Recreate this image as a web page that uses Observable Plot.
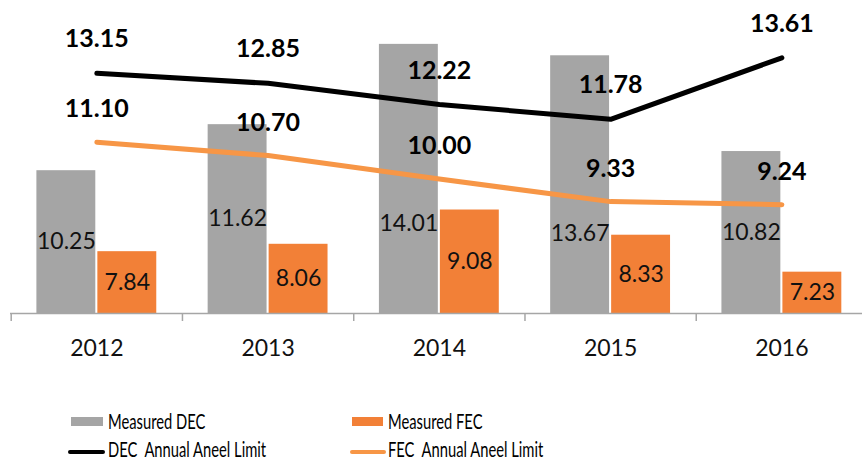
<!DOCTYPE html>
<html><head><meta charset="utf-8">
<script src="https://cdn.jsdelivr.net/npm/d3@7"></script>
<script src="https://cdn.jsdelivr.net/npm/@observablehq/plot@0.6"></script>
<style>
body{margin:0;background:#fff;font-family:Lato,"Open Sans",sans-serif;}
#wrap{position:relative;width:862px;height:461px;}
#chart{position:absolute;left:0;top:0;}
.lg{position:absolute;font-size:22px;color:#000;white-space:pre;line-height:26px;transform:scaleX(0.67);transform-origin:0 50%;}
.sw{position:absolute;}
</style></head><body>
<div id="wrap"><div id="chart"></div>
<div class="sw" style="left:71px;top:417px;width:32px;height:9px;background:#a5a5a5"></div>
<div class="lg" style="left:108px;top:408px">Measured DEC</div>
<div class="sw" style="left:352px;top:417px;width:31px;height:9px;background:#f28037"></div>
<div class="lg" style="left:388px;top:408px">Measured FEC</div>
<div class="sw" style="left:68px;top:450px;width:37px;height:4px;border-radius:2px;background:#000"></div>
<div class="lg" style="left:108px;top:436px">DEC  Annual Aneel Limit</div>
<div class="sw" style="left:350px;top:450px;width:36px;height:4px;border-radius:2px;background:#f79646"></div>
<div class="lg" style="left:388px;top:436px">FEC  Annual Aneel Limit</div>
</div>
<script>
const years = [2012, 2013, 2014, 2015, 2016];
const measuredDEC = [10.25, 11.62, 14.01, 13.67, 10.82];
const measuredFEC = [7.84, 8.06, 9.08, 8.33, 7.23];
const decLimit = [13.15, 12.85, 12.22, 11.78, 13.61];
const fecLimit = [11.10, 10.70, 10.00, 9.33, 9.24];
const boundaries = [2011.5, 2012.5, 2013.5, 2014.5, 2015.5, 2016.5];

const bars = years.flatMap((yr, i) => [
  {year: yr, series: "Measured DEC", value: measuredDEC[i], side: -1},
  {year: yr, series: "Measured FEC", value: measuredFEC[i], side: 1}
]);
const decLine = years.map((yr, i) => ({year: yr, value: decLimit[i]}));
const fecLine = years.map((yr, i) => ({year: yr, value: fecLimit[i]}));
const base = 6;
const fmt = v => v.toFixed(2);
// labels of the two tallest grey bars were moved down in the original
const labelValueOverride = {"2014|-1": 8.68, "2015|-1": 8.38};
const labelY = d => labelValueOverride[d.year + "|" + d.side] ?? (base + d.value) / 2;

const plot = Plot.plot({
  width: 862, height: 400,
  marginLeft: 10, marginRight: 0, marginTop: 10.6, marginBottom: 87,
  style: {fontFamily: "Lato, 'Open Sans', sans-serif", background: "#fff", overflow: "visible"},
  x: {domain: [2011.5, 2016.5], range: [10.7, 867], axis: null},
  y: {domain: [6, 15], axis: null},
  marks: [
    Plot.rectY(bars, {
      x1: d => d.side < 0 ? d.year - 0.35 : d.year + 0.006,
      x2: d => d.side < 0 ? d.year - 0.006 : d.year + 0.35,
      y1: base, y2: "value",
      fill: d => d.side < 0 ? "#a5a5a5" : "#f28037"
    }),
    Plot.text(bars, {
      x: d => d.year + d.side * 0.178,
      y: labelY,
      text: d => fmt(d.value),
      fontSize: 23, fill: "#111"
    }),
    Plot.ruleY([base], {stroke: "#a6a6a6", strokeWidth: 1.5}),
    Plot.axisX({ticks: boundaries, tickSize: 8, tickFormat: () => "", label: null, stroke: "#a6a6a6", strokeWidth: 1.5}),
    Plot.text(years, {x: d => d, y: base, dy: 35, text: d => String(d), fontSize: 23, fill: "#111"}),
    Plot.line(fecLine, {x: "year", y: "value", stroke: "#f79646", strokeWidth: 5, curve: "linear", strokeLinecap: "round", strokeLinejoin: "round"}),
    Plot.line(decLine, {x: "year", y: "value", stroke: "#000", strokeWidth: 5, curve: "linear", strokeLinecap: "round", strokeLinejoin: "round"}),
    Plot.text(decLine, {x: "year", y: "value", dy: -34, text: d => fmt(d.value), fontSize: 25, fontWeight: "bold", fill: "#000"}),
    Plot.text(fecLine, {x: "year", y: "value", dy: -33, text: d => fmt(d.value), fontSize: 25, fontWeight: "bold", fill: "#000"})
  ]
});
document.getElementById("chart").appendChild(plot);
</script>
</body></html>
